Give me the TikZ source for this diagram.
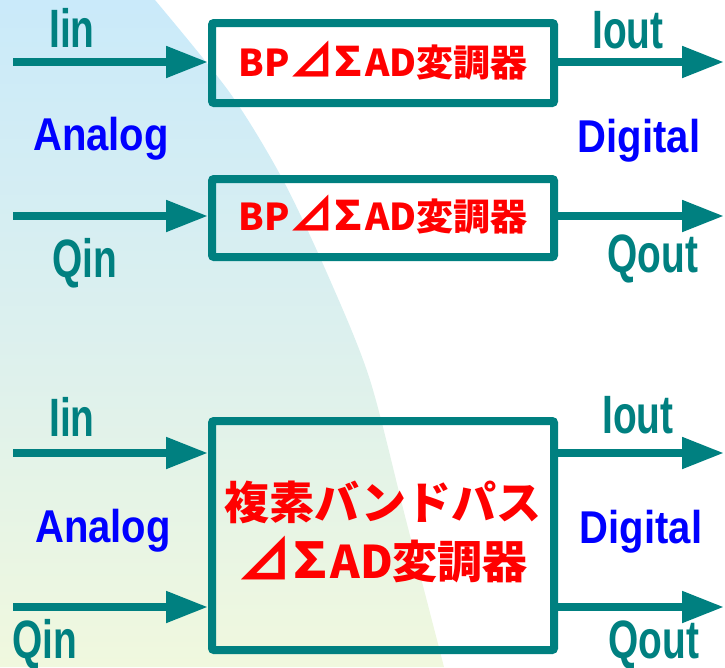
\documentclass[tikz,border=0pt]{standalone}
\usepackage{fontspec}
\usepackage{graphicx}
\usetikzlibrary{arrows.meta}
\newfontfamily\jpfont{Noto Sans CJK JP}
\newfontfamily\labT{Liberation Sans}[FakeStretch=0.72]
\newfontfamily\labB{Liberation Sans}[FakeStretch=0.87]
\definecolor{tealc}{RGB}{0,128,128}
\definecolor{bgtop}{RGB}{202,234,250}
\definecolor{bgmid}{RGB}{220,240,238}
\definecolor{bgbot}{RGB}{240,248,222}
\newcommand{\dsig}{\hspace{0.1em}\makebox[1em]{\raisebox{-0.05em}{\scalebox{1.22}{⊿}}}\hspace{0.05em}\makebox[0.9em]{\scalebox{1.2}[1.1]{Σ}}}
\begin{document}
\begin{tikzpicture}[x=1pt,y=-1pt,
 box/.style={draw=tealc,line width=8pt,rounded corners=2pt,inner sep=0pt,minimum width=342pt},
 sig/.style={draw=tealc,line width=8pt,-{Triangle[length=42pt,width=30pt]}},
 tlab/.style={text=tealc,font=\labT\bfseries\fontsize{54}{54}\selectfont,anchor=base,inner sep=0pt},
 blab/.style={text=blue,font=\labB\bfseries\fontsize{46}{46}\selectfont,anchor=base,inner sep=0pt},
 redt/.style={text=red,font=\jpfont\bfseries\fontsize{37}{37}\selectfont,anchor=base,inner sep=0pt}]
\useasboundingbox (0,0) rectangle (725,667);
\shade[top color=bgtop,bottom color=bgbot,middle color=bgmid]
  (0,0) -- plot[smooth] coordinates {(155,0) (230,93) (283,180) (330,280) (370,380) (406,520) (444,667)} -- (0,667) -- cycle;
% boxes
\node[box,minimum height=80pt] (b1) at (383,63) {};
\node[box,minimum height=78pt] (b2) at (383,218) {};
\node[box,minimum height=229pt] (b3) at (383,535.5) {};
% box texts
\node[redt] (t1) at (383,76) {BP\dsig AD変調器};
\node[redt] (t2) at (383,230) {BP\dsig AD変調器};
\node[text=red,font=\jpfont\bfseries\fontsize{45}{59}\selectfont,align=center,inner sep=0pt] (t3) at (383,532) {複素バンドパス\\\dsig AD変調器};
% arrows
\coordinate (s1) at (13,62);
\coordinate (s2) at (13,216);
\coordinate (s3) at (13,453);
\coordinate (s4) at (13,607);
\coordinate (e1) at (724,62);
\coordinate (e2) at (724,216);
\coordinate (e3) at (724,453);
\coordinate (e4) at (724,607);
\draw[sig] (s1) -- (s1 -| b1.west);
\draw[sig] (s2) -- (s2 -| b2.west);
\draw[sig] (s3) -- (s3 -| b3.west);
\draw[sig] (s4) -- (s4 -| b3.west);
\draw[sig] (b1.east |- e1) -- (e1);
\draw[sig] (b2.east |- e2) -- (e2);
\draw[sig] (b3.east |- e3) -- (e3);
\draw[sig] (b3.east |- e4) -- (e4);
% labels
\node[tlab] (iin1) at (72,47) {Iin};
\node[tlab] (iout1) at (628,48) {Iout};
\node[blab] (an1) at (101,150) {Analog};
\node[blab] (dg1) at (639,152) {Digital};
\node[tlab] (qin1) at (85,277) {Qin};
\node[tlab] (qout1) at (653,272) {Qout};
\node[tlab] (iin2) at (72,436) {Iin};
\node[tlab] (iout2) at (638,433) {Iout};
\node[blab] (an2) at (103,542) {Analog};
\node[blab] (dg2) at (641,543) {Digital};
\node[tlab] (qin2) at (45,658) {Qin};
\node[tlab] (qout2) at (654,658) {Qout};
\end{tikzpicture}
\end{document}
